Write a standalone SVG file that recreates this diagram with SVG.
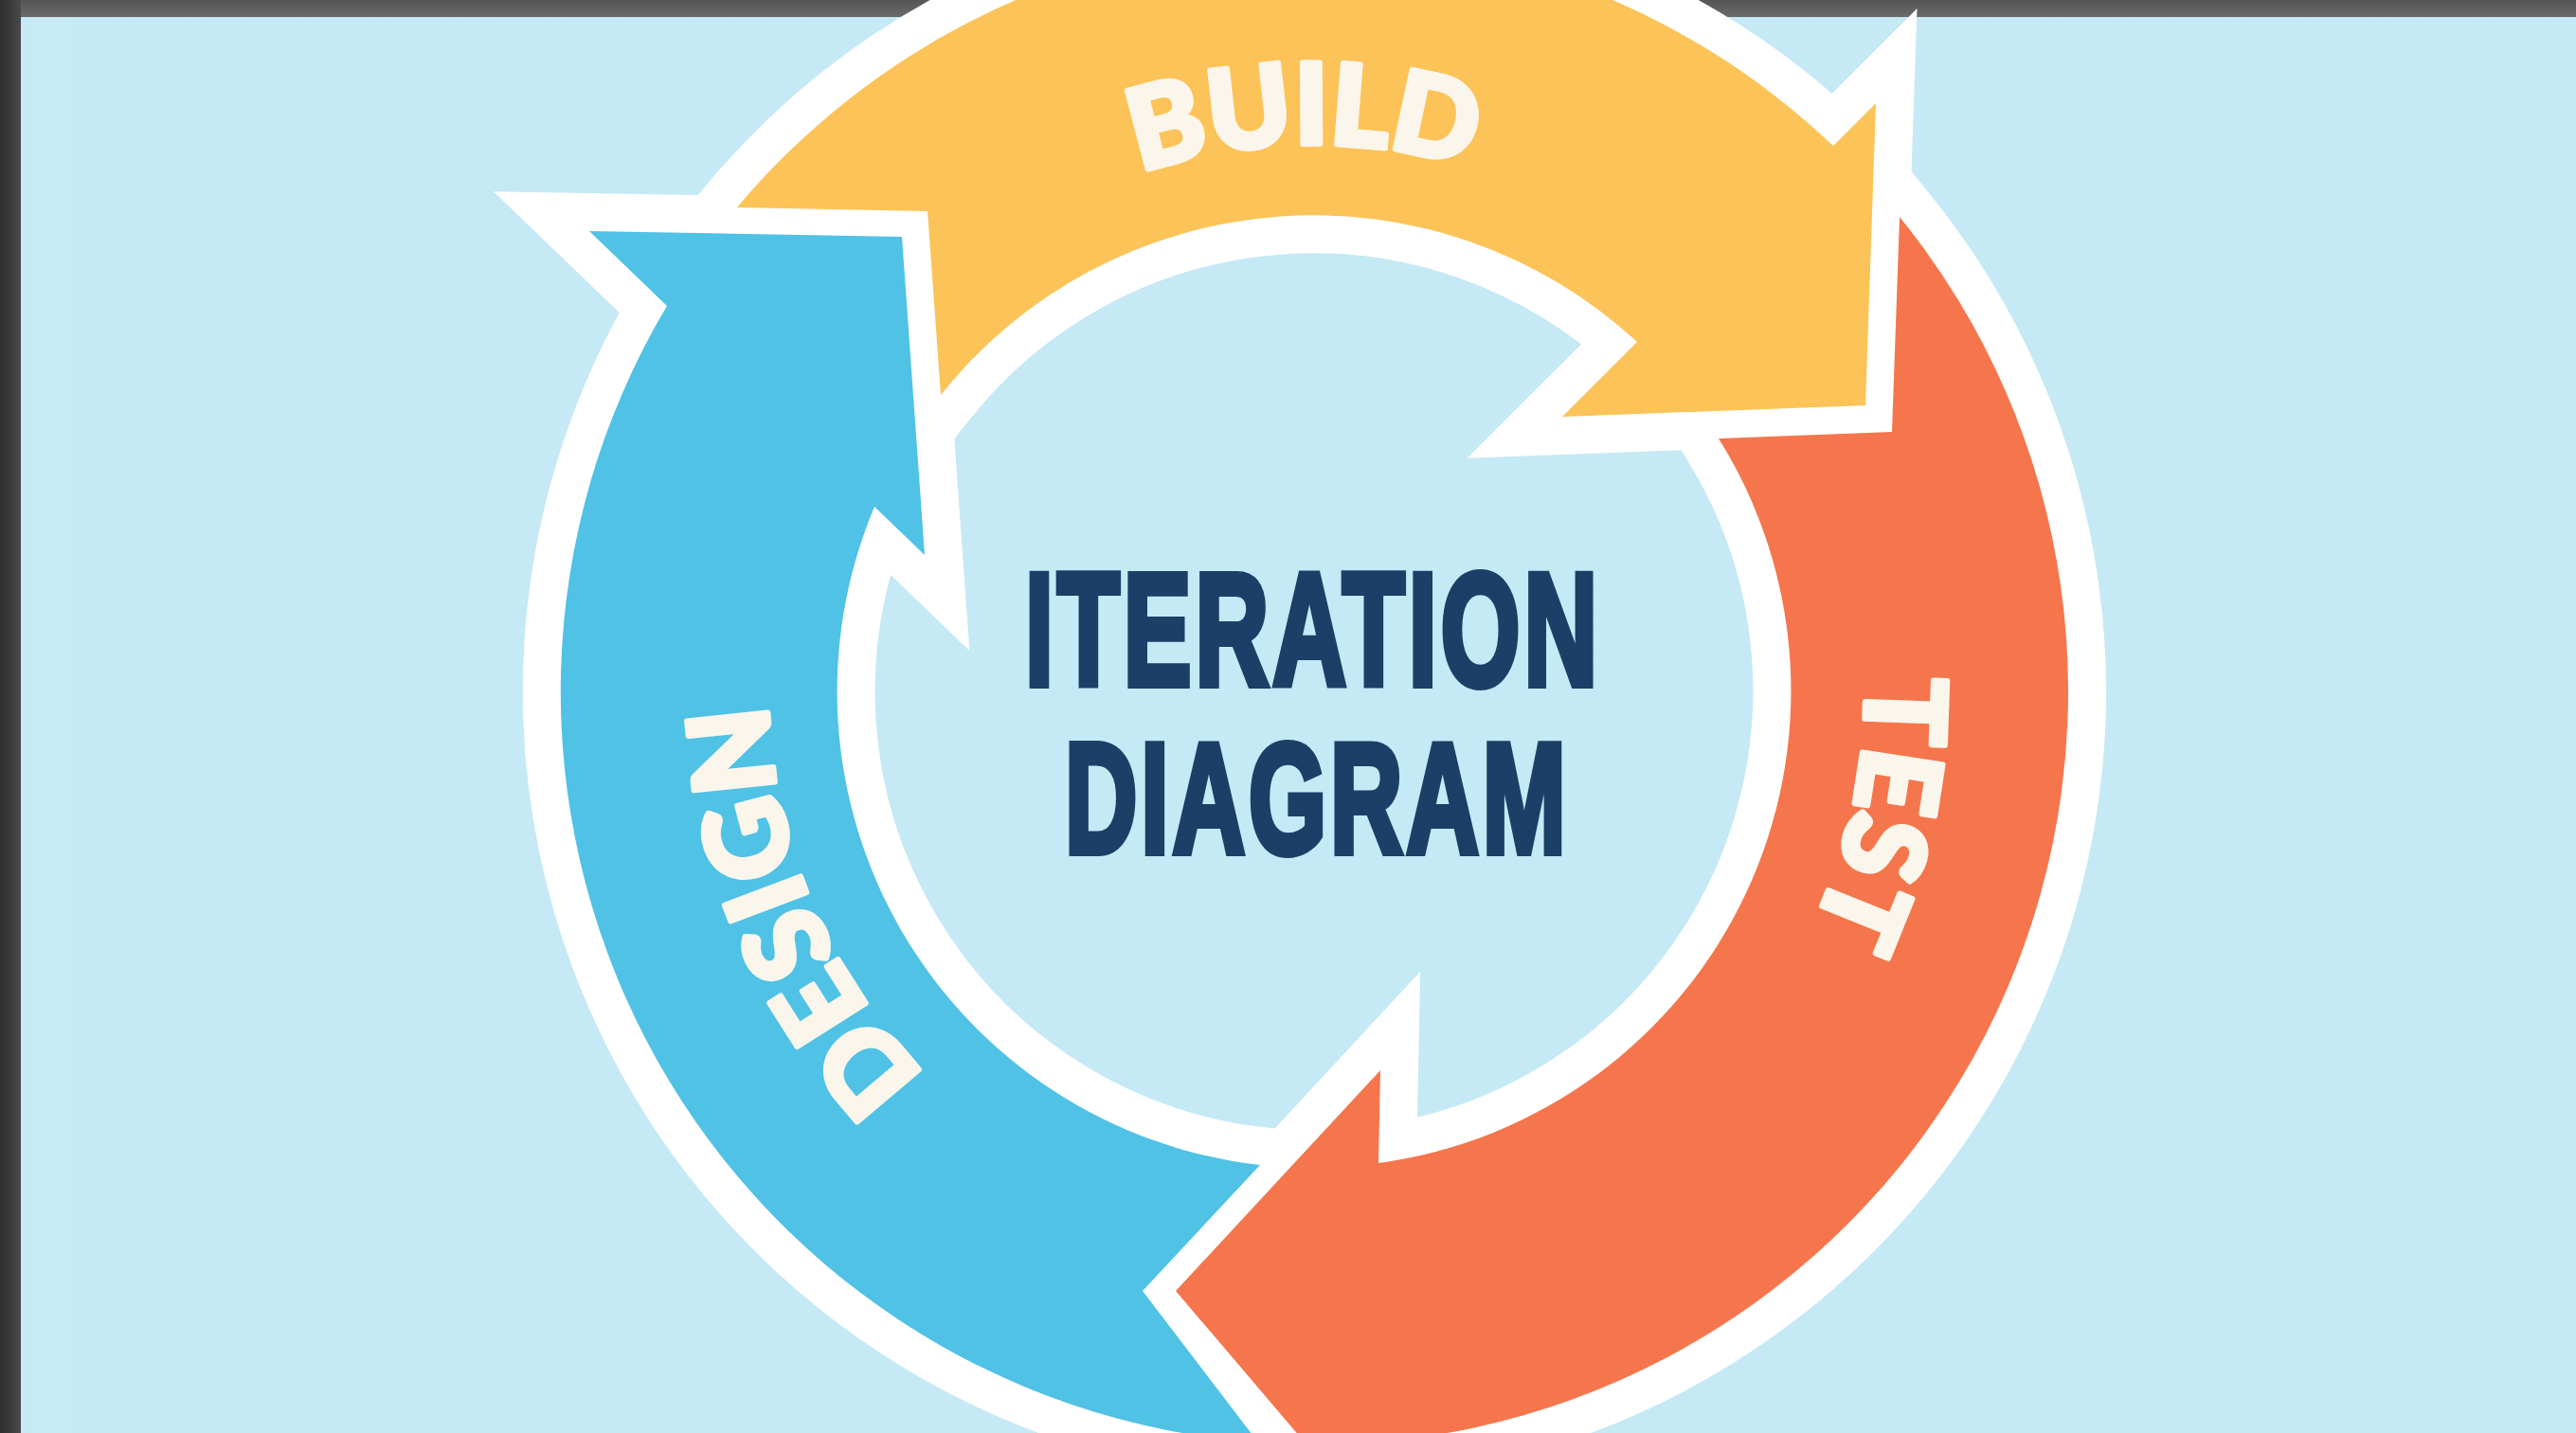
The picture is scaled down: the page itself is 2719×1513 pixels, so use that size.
<svg xmlns="http://www.w3.org/2000/svg" width="2719" height="1513" viewBox="0 0 2719 1513">
<defs>
<style>
.outline{fill:#FFFFFF;stroke:#FFFFFF;stroke-width:80;stroke-linejoin:miter;stroke-miterlimit:6}
.design{fill:#4FC2E5}
.build{fill:#FCC358}
.test{fill:#F5764C}
.label{font-family:Lato,"Open Sans","Liberation Sans",sans-serif;font-weight:900;font-size:118px;fill:#FAF6EC;stroke:#FAF6EC;stroke-width:6;stroke-linejoin:round;text-anchor:middle}
.title{font-family:"Liberation Sans",Arial,sans-serif;font-weight:bold;fill:#1B3F67;stroke:#1B3F67;stroke-width:8;stroke-linejoin:miter}
</style>
<linearGradient id="leftband" x1="0" y1="0" x2="1" y2="0">
<stop offset="0" stop-color="#2E2E2E"/>
<stop offset="1" stop-color="#4A4A4A"/>
</linearGradient>
<linearGradient id="topband" x1="0" y1="0" x2="0" y2="1">
<stop offset="0" stop-color="#555555"/>
<stop offset="1" stop-color="#6B6B6B"/>
</linearGradient>
<path id="shape-design" d="M1206 1363 L1330 1230 A503 503 0 0 1 923 535 L976 586 L952 250 L622 244 L704 323 A795 795 0 0 0 1328 1523 Z"/>
<path id="shape-build" d="M778 219 L979 223 L993 417 A503 503 0 0 1 1728 361 L1649 440 L1969 428 L1980 109 L1935 154 A795 795 0 0 0 778 219 Z"/>
<path id="shape-test" d="M1814 463 L1997 456 L2005 229 A795 795 0 0 1 1449 1523 L1447 1605 L1241 1363 L1457 1130 L1455 1228 A503 503 0 0 0 1814 463 Z"/>
<path id="arc-build" d="M840.5 541.8 A578 578 0 0 1 1926.6 522.9"/>
<path id="arc-test" d="M1695.4 236.5 A582 582 0 0 1 1468 1306.3"/>
<path id="arc-design" d="M1417.1 1305.2 A576 576 0 0 1 994.2 308.7"/>
</defs>

<g id="frame">
<rect x="0" y="0" width="2719" height="1513" fill="#5A5A5A"/>
<rect x="0" y="0" width="2719" height="18" fill="url(#topband)"/>
<rect x="0" y="0" width="22" height="1513" fill="url(#leftband)"/>
<rect x="22" y="18" width="2697" height="1495" fill="#C5E9F5"/>
<rect x="33" y="18" width="44" height="1495" fill="#C9EBF6"/>
</g>

<g id="outlines">
<use href="#shape-design" class="outline"/>
<use href="#shape-build" class="outline"/>
<use href="#shape-test" class="outline"/>
</g>

<g id="node-design">
<use href="#shape-design" class="design"/>
<text class="label"><textPath href="#arc-design" startOffset="50%">DESIGN</textPath></text>
</g>

<g id="node-build">
<use href="#shape-build" class="build"/>
<text class="label"><textPath href="#arc-build" startOffset="50%">BUILD</textPath></text>
</g>

<g id="node-test">
<use href="#shape-test" class="test"/>
<text class="label"><textPath href="#arc-test" startOffset="50%">TEST</textPath></text>
</g>

<g id="connectors"></g>

<g id="title">
<text class="title" transform="translate(1082,723) scale(0.64,1)" font-size="168" letter-spacing="6.4">ITERATION</text>
<text class="title" transform="translate(1124,900) scale(0.64,1)" font-size="165" letter-spacing="6.3">DIAGRAM</text>
</g>
</svg>
